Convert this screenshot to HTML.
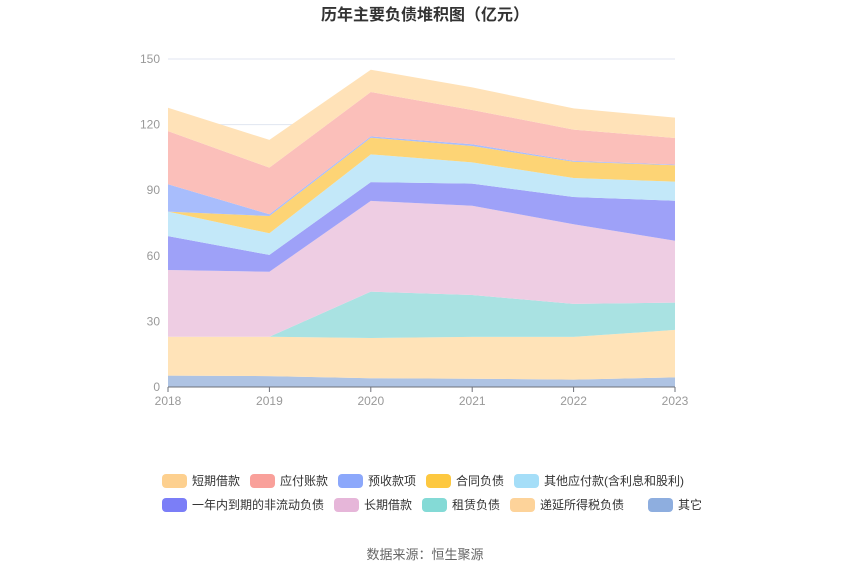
<!DOCTYPE html>
<html><head><meta charset="utf-8">
<style>
body{margin:0;background:#fff;}
svg{display:block;font-family:"Liberation Sans","Noto Sans CJK SC",sans-serif;}
</style></head>
<body>
<svg id="c" width="850" height="575">
<text x="425" y="20" text-anchor="middle" font-size="16" font-weight="bold" fill="#333">历年主要负债堆积图（亿元）</text>
<text x="425" y="559" text-anchor="middle" font-size="13" fill="#666">数据来源：恒生聚源</text>
</svg>
<script>
const years=['2018','2019','2020','2021','2022','2023'];
const yTicks=[0,30,60,90,120,150];
const names=['其它','递延所得税负债','租赁负债','长期借款','一年内到期的非流动负债','其他应付款(含利息和股利)','合同负债','预收款项','应付账款','短期借款'];
const sOther=[5.2,5.0,4.0,3.8,3.4,4.4];
const sDeferred=[17.8,18.0,18.4,19.1,19.5,21.7];
const sLease=[0,0,21.2,19.2,15.1,12.5];
const sLongLoan=[30.5,29.7,41.5,40.8,36.4,28.3];
const sCurrentNonCur=[15.5,7.7,8.6,10.1,12.5,18.3];
const sOtherPay=[11.2,9.9,12.7,9.7,8.7,8.7];
const sContract=[0,7.9,7.6,7.5,7.4,7.5];
const sAdvance=[12.5,0.8,0.6,0.8,0.4,0.3];
const sPayable=[24.3,21.3,20.3,15.7,14.3,12.2];
const sShortLoan=[10.7,12.7,10.2,10.3,9.7,9.3];
const series=[sOther,sDeferred,sLease,sLongLoan,sCurrentNonCur,sOtherPay,sContract,sAdvance,sPayable,sShortLoan];
const fills=['#aec3e3','#ffe3b8','#a9e2e2','#eecde3','#9ea1f8','#c3e8f9','#fdd475','#a8bdfc','#fbbfba','#ffe2b8'];
const legendColors=['#8eaedf','#fdd39a','#84dad6','#e6b6d9','#7b7ef7','#a5def8','#fdc840','#8ca8fb','#f9a09a','#fdd08f'];
const slugs=['other','deferred-tax','lease','long-term-loan','current-noncurrent','other-payables','contract','advance','payables','short-term-loan'];
const NS='http://www.w3.org/2000/svg';
const svg=document.getElementById('c');
const X0=168,X1=675,Y0=387,Y1=59,YMAX=150;
const xs=i=>X0+(X1-X0)*i/(years.length-1);
const ys=v=>Y0-(Y0-Y1)*v/YMAX;
function mk(t,a){const e=document.createElementNS(NS,t);for(const k in a)e.setAttribute(k,a[k]);svg.appendChild(e);return e;}
yTicks.forEach(t=>{
 if(t>0){const g=mk('line',{x1:X0,x2:X1,y1:ys(t),y2:ys(t),stroke:'#e0e6f1'});
 
 }
 const l=mk('text',{x:160,y:ys(t)+4,'text-anchor':'end','font-size':12,fill:'#999'});l.textContent=t;
 
 
});
let base=years.map(()=>0);
series.forEach((s,k)=>{
 const top=base.map((b,i)=>b+s[i]);
 let d='M'+top.map((v,i)=>xs(i)+','+ys(v)).join('L');
 for(let i=years.length-1;i>=0;i--)d+='L'+xs(i)+','+ys(base[i]);
 const p=mk('path',{d:d+'Z',fill:fills[k]});
 
 
 base=top;
});
const ax=mk('line',{x1:X0,x2:X1,y1:Y0,y2:Y0,stroke:'#6e7079'});


years.forEach((y,i)=>{
 mk('line',{x1:xs(i),x2:xs(i),y1:Y0,y2:Y0+5,stroke:'#6e7079'});
 const t=mk('text',{x:xs(i),y:405,'text-anchor':'middle','font-size':12,fill:'#999'});t.textContent=y;
 
 
});
const order=[9,8,7,6,5,4,3,2,1,0];
const lx=[162,250,338,426,514,162,334,422,510,648];
const ly=[481,481,481,481,481,505,505,505,505,505];
order.forEach((k,j)=>{
 const r=mk('rect',{x:lx[j],y:ly[j]-7,width:25,height:14,rx:4,fill:legendColors[k]});
 
 
 const t=mk('text',{x:lx[j]+30,y:ly[j]+4,'font-size':12,fill:'#333'});t.textContent=names[k];
 
 
});
</script>
</body></html>
